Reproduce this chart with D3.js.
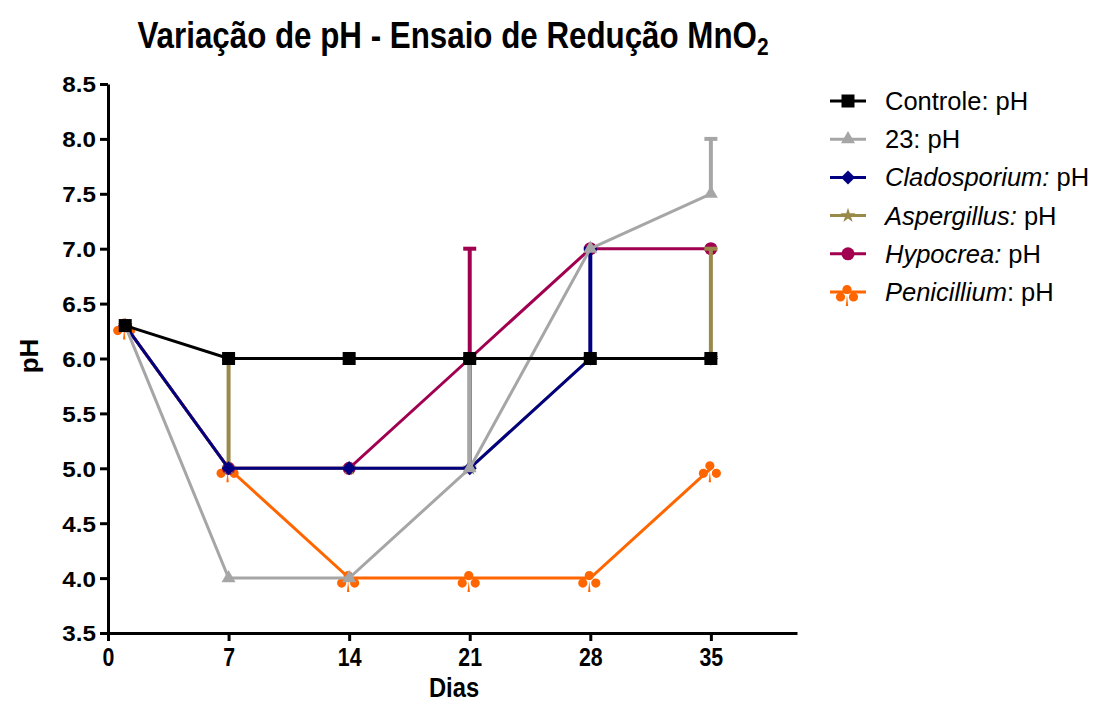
<!DOCTYPE html>
<html>
<head>
<meta charset="utf-8">
<script src="https://cdn.jsdelivr.net/npm/d3@7"></script>
<style>
  body { margin: 0; background: #fff; }
  svg { font-family: "Liberation Sans", Arial, sans-serif; }
</style>
</head>
<body>
<svg id="chart" width="1100" height="702"></svg>
<script>
// DATA
const days = [1, 7, 14, 21, 28, 35];
const xTicks = [0, 7, 14, 21, 28, 35];
const yTicks = [3.5, 4.0, 4.5, 5.0, 5.5, 6.0, 6.5, 7.0, 7.5, 8.0, 8.5];

const controle = [6.3, 6.0, 6.0, 6.0, 6.0, 6.0];
const controleErr = [0, 0, 0, 0, 0, 0];
const s23 = [6.3, 4.0, 4.0, 5.0, 7.0, 7.5];
const s23Err = [0, 0, 0, 1.0, 0, 0.5];
const cladosporium = [6.3, 5.0, 5.0, 5.0, 6.0, 6.0];
const cladosporiumErr = [0, 0, 0, 1.0, 1.0, 0];
const aspergillus = [6.3, 5.0, 5.0, 5.0, 6.0, 6.0];
const aspergillusErr = [0, 1.0, 0, 0, 0, 1.0];
const hypocrea = [6.3, 5.0, 5.0, 6.0, 7.0, 7.0];
const hypocreaErr = [0, 0, 0, 1.0, 0, 0];
const penicillium = [6.3, 5.0, 4.0, 4.0, 4.0, 5.0];
const penicilliumErr = [0, 0, 0, 0, 0, 0];

// legend order (top to bottom); drawn on chart in reverse so Controle is on top
const series = [
  { name: "Controle", italic: false, values: controle, err: controleErr, color: "#000000", symbol: "square" },
  { name: "23", italic: false, values: s23, err: s23Err, color: "#a6a6a6", symbol: "triangle" },
  { name: "Cladosporium:", italic: true, values: cladosporium, err: cladosporiumErr, color: "#000080", symbol: "diamond" },
  { name: "Aspergillus:", italic: true, values: aspergillus, err: aspergillusErr, color: "#9a8a4a", symbol: "star" },
  { name: "Hypocrea:", italic: true, values: hypocrea, err: hypocreaErr, color: "#a0004f", symbol: "circle" },
  { name: "Penicillium", italic: true, values: penicillium, err: penicilliumErr, color: "#ff6600", symbol: "club" }
];

// SETUP
const svg = d3.select("#chart");
const x = d3.scaleLinear().domain([0, 40]).range([108, 797]);
const y = d3.scaleLinear().domain([3.5, 8.5]).range([633, 84]);

function symbolPath(type) {
  if (type === "square") return d3.symbol(d3.symbolSquare, 169)();
  if (type === "triangle") return d3.symbol(d3.symbolTriangle, 85)();
  if (type === "circle") return d3.symbol(d3.symbolCircle, 133)();
  if (type === "star") return d3.symbol(d3.symbolStar, 70)();
  if (type === "diamond") return "M0,-7L7,0L0,7L-7,0Z";
  if (type === "club") {
    const c = (cx, cy, r) => `M${cx + r},${cy}A${r},${r} 0 1,1 ${cx - r},${cy}A${r},${r} 0 1,1 ${cx + r},${cy}Z`;
    return c(-1, -2.5, 4.6) + c(-7.5, 5, 4.6) + c(5.5, 5, 4.6) + "M-1,3L-2.2,14L0.2,14Z";
  }
}

// AXES
const xAxis = svg.append("g")
  .attr("transform", "translate(0," + y(3.5) + ")")
  .call(d3.axisBottom(x).tickValues(xTicks).tickSize(8).tickSizeOuter(0).tickPadding(7));
xAxis.selectAll("text")
  .attr("font-size", 26).attr("font-weight", "bold").attr("fill", "#000")
  .attr("transform", "scale(0.82,1)");

const yAxis = svg.append("g")
  .attr("transform", "translate(" + x(0) + ",0)")
  .call(d3.axisLeft(y).tickValues(yTicks).tickFormat(d3.format(".1f")).tickSize(8).tickSizeOuter(0).tickPadding(3));
yAxis.selectAll("text")
  .attr("font-size", 22).attr("font-weight", "bold").attr("fill", "#000").attr("dy", "0.36em")
  .attr("transform", "scale(1.1,1)");

[xAxis, yAxis].forEach(a => {
  a.select(".domain").attr("stroke", "#000").attr("stroke-width", 3);
  a.selectAll(".tick line").attr("stroke", "#000").attr("stroke-width", 3);
});

// TITLES
const title = svg.append("text")
  .attr("transform", "translate(453,48) scale(0.87,1)")
  .attr("text-anchor", "middle")
  .attr("font-size", 36).attr("font-weight", "bold");
title.append("tspan").text("Variação de pH - Ensaio de Redução MnO");
title.append("tspan").attr("font-size", 24).attr("dy", 7).text("2");

svg.append("text")
  .attr("transform", "translate(454,697) scale(0.88,1)")
  .attr("text-anchor", "middle")
  .attr("font-size", 27).attr("font-weight", "bold")
  .text("Dias");

svg.append("text")
  .attr("transform", "translate(38,356) rotate(-90)")
  .attr("text-anchor", "middle")
  .attr("font-size", 26).attr("font-weight", "bold")
  .text("pH");

// SERIES (reverse order so first series is on top)
const line = d3.line().x(d => x(d.day)).y(d => y(d.value));

series.slice().reverse().forEach(s => {
  const pts = days.map((d, i) => ({ day: d, value: s.values[i], err: s.err[i] }));
  const g = svg.append("g");

  const errPts = pts.filter(p => p.err > 0);
  g.selectAll(".err").data(errPts).enter().append("line")
    .attr("x1", p => x(p.day)).attr("x2", p => x(p.day))
    .attr("y1", p => y(p.value)).attr("y2", p => y(p.value + p.err))
    .attr("stroke", s.color).attr("stroke-width", 4);
  g.selectAll(".cap").data(errPts).enter().append("line")
    .attr("x1", p => x(p.day) - 6.5).attr("x2", p => x(p.day) + 6.5)
    .attr("y1", p => y(p.value + p.err)).attr("y2", p => y(p.value + p.err))
    .attr("stroke", s.color).attr("stroke-width", 4);

  g.append("path").datum(pts)
    .attr("d", line)
    .attr("fill", "none").attr("stroke", s.color).attr("stroke-width", 3);

  g.selectAll(".pt").data(pts).enter().append("path")
    .attr("transform", p => "translate(" + x(p.day) + "," + y(p.value) + ")")
    .attr("d", symbolPath(s.symbol))
    .attr("fill", s.color);
});

// LEGEND
const legend = svg.append("g");
series.forEach((s, i) => {
  const cy = 101 + i * 38.2;
  const row = legend.append("g").attr("transform", "translate(0," + cy + ")");
  row.append("line").attr("x1", 830).attr("x2", 866).attr("y1", 0).attr("y2", 0)
    .attr("stroke", s.color).attr("stroke-width", 3);
  row.append("path").attr("transform", "translate(848,0)")
    .attr("d", symbolPath(s.symbol)).attr("fill", s.color);
  const t = row.append("text").attr("x", 885).attr("y", 9).attr("font-size", 25.5);
  if (s.italic) {
    t.append("tspan").attr("font-style", "italic").text(s.name);
    t.append("tspan").text(s.name.endsWith(":") ? " pH" : ": pH");
  } else {
    t.append("tspan").text(s.name + ": pH");
  }
});
</script>
</body>
</html>
